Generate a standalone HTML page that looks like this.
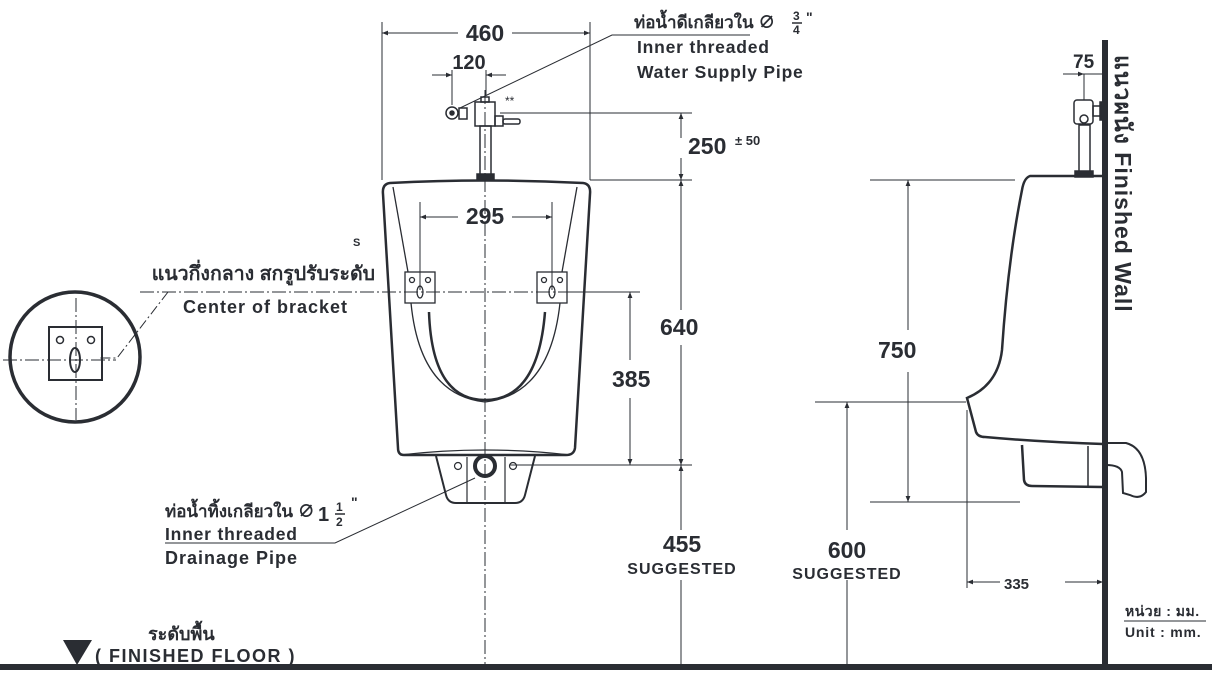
<!DOCTYPE html>
<html><head><meta charset="utf-8"><style>
html,body{margin:0;padding:0;background:#fff;}
svg{display:block;}
text{font-family:"Liberation Sans","Noto Sans CJK SC",sans-serif;fill:#2a2d33;font-weight:bold;}
</style></head><body>
<svg width="1212" height="677" viewBox="0 0 1212 677" xmlns="http://www.w3.org/2000/svg">
<defs>
<marker id="a" viewBox="0 0 10 10" refX="10" refY="5" markerWidth="9" markerHeight="6" orient="auto-start-reverse" markerUnits="userSpaceOnUse"><path d="M0,1 L10,5 L0,9 z" fill="#2a2d33"/></marker>
</defs>
<g stroke="#2a2d33" fill="none" stroke-width="1">
<line x1="382" y1="22" x2="382" y2="180"/><line x1="590" y1="22" x2="590" y2="180"/>
<line x1="382" y1="33" x2="458" y2="33" marker-start="url(#a)"/><line x1="512" y1="33" x2="590" y2="33" marker-end="url(#a)"/>
<line x1="452" y1="70" x2="452" y2="105"/><line x1="486" y1="70" x2="486" y2="95"/>
<line x1="432" y1="75" x2="452" y2="75" marker-end="url(#a)"/><line x1="506" y1="75" x2="486" y2="75" marker-end="url(#a)"/>
<polyline points="460,108 612,35 750,35"/>
<line x1="500" y1="113" x2="692" y2="113"/><line x1="590" y1="180" x2="692" y2="180"/>
<line x1="681" y1="138" x2="681" y2="113" marker-end="url(#a)"/><line x1="681" y1="158" x2="681" y2="180" marker-end="url(#a)"/>
<line x1="681" y1="310" x2="681" y2="180" marker-end="url(#a)"/><line x1="681" y1="345" x2="681" y2="465" marker-end="url(#a)"/>
<line x1="510" y1="465" x2="692" y2="465"/>
<line x1="681" y1="530" x2="681" y2="465" marker-end="url(#a)"/><line x1="681" y1="580" x2="681" y2="667"/>
<line x1="560" y1="292" x2="640" y2="292"/>
<line x1="630" y1="360" x2="630" y2="292" marker-end="url(#a)"/><line x1="630" y1="398" x2="630" y2="465" marker-end="url(#a)"/>
<line x1="140" y1="292" x2="640" y2="292" stroke-dasharray="14,3,2,3"/>
<line x1="485" y1="90" x2="485" y2="667" stroke-dasharray="14,3,2,3"/>
<line x1="420" y1="202" x2="420" y2="290"/><line x1="552" y1="202" x2="552" y2="290"/>
<line x1="458" y1="217" x2="420" y2="217" marker-end="url(#a)"/><line x1="512" y1="217" x2="552" y2="217" marker-end="url(#a)"/>
<g stroke-width="1.5">
<circle cx="452" cy="113" r="6"/><circle cx="452" cy="113" r="2" fill="#2a2d33"/>
<rect x="459" y="108" width="8" height="11"/>
<rect x="475" y="102" width="20" height="24"/><rect x="481" y="97" width="8" height="5"/>
<rect x="495" y="116" width="8" height="10"/><rect x="503" y="119" width="17" height="5" rx="2"/>
<rect x="480" y="126" width="11" height="49"/><rect x="477" y="174" width="17" height="6" fill="#2a2d33"/>
</g>
<g stroke-width="2.5">
<path d="M390,183 Q485,178 583,183 Q591,184 590,194 L575,448 Q574,455 566,455 L404,455 Q398,455 398,448 L383,194 Q382,184 390,183 Z"/>
</g>
<g stroke-width="1.3">
<path d="M393,187 L408,272 M577,187 L562,272"/>
<path d="M411,303 Q420,395 485,402 Q550,395 560,303"/>
<path d="M400,455 Q485,445 570,455"/>
<rect x="405" y="272" width="30" height="31"/><rect x="537" y="272" width="30" height="31"/>
<circle cx="412" cy="280" r="2.5"/><circle cx="428" cy="280" r="2.5"/><ellipse cx="420" cy="292" rx="3" ry="6"/>
<circle cx="544" cy="280" r="2.5"/><circle cx="560" cy="280" r="2.5"/><ellipse cx="552" cy="292" rx="3" ry="6"/>
</g>
<path d="M429,312 Q432,400 485,400 Q538,400 545,312" stroke-width="2.5"/>
<g stroke-width="2">
<path d="M436,456 L446,495 Q448,503 456,503 L515,503 Q523,503 525,495 L535,456"/>
</g>
<g stroke-width="1.2"><line x1="467" y1="457" x2="467" y2="502"/><line x1="505" y1="457" x2="505" y2="502"/>
<circle cx="458" cy="466" r="3.5"/><circle cx="513" cy="466" r="3.5"/></g>
<circle cx="485" cy="466" r="10" stroke-width="4"/>
<polyline points="475,478 335,543 165,543"/>
<polyline points="168,292 117,358 100,358" stroke-dasharray="10,3,2,3"/>
<circle cx="75" cy="357" r="65" stroke-width="3.5"/>
<rect x="49" y="327" width="53" height="53" stroke-width="2"/>
<circle cx="60" cy="340" r="3.5" stroke-width="1.5"/><circle cx="91" cy="340" r="3.5" stroke-width="1.5"/>
<ellipse cx="75" cy="360" rx="5" ry="12" stroke-width="2"/>
<line x1="76" y1="298" x2="76" y2="420" stroke-dasharray="14,3,2,3"/>
<line x1="3" y1="360" x2="116" y2="360" stroke-dasharray="14,3,2,3"/>
<line x1="1063" y1="74" x2="1084" y2="74" marker-end="url(#a)"/><line x1="1084" y1="74" x2="1103" y2="74"/>
<line x1="1084" y1="74" x2="1084" y2="100"/>
<line x1="870" y1="180" x2="1015" y2="180"/><line x1="870" y1="502" x2="1020" y2="502"/>
<line x1="908" y1="330" x2="908" y2="180" marker-end="url(#a)"/><line x1="908" y1="372" x2="908" y2="502" marker-end="url(#a)"/>
<line x1="815" y1="402" x2="966" y2="402"/>
<line x1="847" y1="530" x2="847" y2="402" marker-end="url(#a)"/><line x1="847" y1="580" x2="847" y2="667"/>
<line x1="967" y1="410" x2="967" y2="588"/>
<line x1="1000" y1="582" x2="967" y2="582" marker-end="url(#a)"/><line x1="1065" y1="582" x2="1103" y2="582" marker-end="url(#a)"/>
<g stroke-width="2.5">
<path d="M1103,176 L1030,176 Q1024,178 1022,190 Q1008,260 1002,350 Q998,385 967,398 L976,432 Q978,437 985,437 Q1040,442 1103,444"/>
<path d="M1022,445 L1024,480 Q1025,486 1032,486 L1103,487"/>
<path d="M1106,443 L1126,443 Q1145,448 1146,478 L1146,492 Q1140,500 1130,495 L1123,493 L1122,472 Q1120,465 1106,465" stroke-width="2"/>
</g>
<line x1="1088" y1="446" x2="1088" y2="487" stroke-width="1.5"/>
<g stroke-width="1.5">
<rect x="1079" y="125" width="11" height="47"/><rect x="1075" y="171" width="18" height="6" fill="#2a2d33"/>
<rect x="1074" y="100" width="19" height="24" rx="3"/><circle cx="1084" cy="119" r="4"/>
<rect x="1093" y="106" width="8" height="10"/><rect x="1100" y="102" width="3" height="18" fill="#2a2d33"/>
</g>
</g>
<rect x="1102" y="40" width="6" height="628" fill="#2a2d33"/>
<rect x="0" y="664" width="1212" height="6" fill="#2a2d33"/>
<polygon points="63,640 92,640 77,665" fill="#2a2d33"/>
<text x="485" y="41" font-size="23" text-anchor="middle">460</text>
<text x="469" y="69" font-size="20" text-anchor="middle">120</text>
<text x="505" y="105" font-size="12" style="font-weight:normal">**</text>
<text x="634" y="28" font-size="17">ท่อน้ำดีเกลียวใน ∅</text>
<text x="793" y="20" font-size="12">3</text><line x1="792" y1="23" x2="802" y2="23" stroke="#2a2d33" stroke-width="1.5"/><text x="793" y="34" font-size="12">4</text><text x="806" y="22" font-size="14">"</text>
<text x="637" y="53" font-size="17.5" letter-spacing="0.8">Inner threaded</text>
<text x="637" y="78" font-size="17.5" letter-spacing="0.8">Water Supply Pipe</text>
<text x="688" y="154" font-size="23">250</text><text x="735" y="145" font-size="13">± 50</text>
<text x="660" y="335" font-size="23">640</text>
<text x="612" y="387" font-size="23">385</text>
<text x="485" y="224" font-size="23" text-anchor="middle">295</text>
<text x="682" y="552" font-size="23" text-anchor="middle">455</text>
<text x="682" y="574" font-size="16" letter-spacing="1" text-anchor="middle">SUGGESTED</text>
<text x="847" y="558" font-size="23" text-anchor="middle">600</text>
<text x="847" y="579" font-size="16" letter-spacing="1" text-anchor="middle">SUGGESTED</text>
<text x="878" y="358" font-size="23">750</text>
<text x="1004" y="589" font-size="15">335</text>
<text x="1073" y="68" font-size="19">75</text>
<text x="353" y="246" font-size="11">S</text>
<text x="375" y="280" font-size="19.5" text-anchor="end">แนวกึ่งกลาง สกรูปรับระดับ</text>
<text x="183" y="313" font-size="18" letter-spacing="1">Center of bracket</text>
<text x="165" y="517" font-size="17">ท่อน้ำทิ้งเกลียวใน ∅</text>
<text x="318" y="521" font-size="20">1</text>
<text x="336" y="511" font-size="12">1</text><line x1="335" y1="514" x2="345" y2="514" stroke="#2a2d33" stroke-width="1.5"/><text x="336" y="526" font-size="12">2</text><text x="351" y="507" font-size="14">"</text>
<text x="165" y="540" font-size="17.5" letter-spacing="0.8">Inner threaded</text>
<text x="165" y="564" font-size="18" letter-spacing="1">Drainage Pipe</text>
<text x="148" y="640" font-size="18">ระดับพื้น</text>
<text x="95" y="662" font-size="18" letter-spacing="1.5">( FINISHED FLOOR )</text>
<text transform="translate(1115,55) rotate(90)" font-size="23" letter-spacing="1">แนวผนัง Finished Wall</text>
<text x="1125" y="616" font-size="14" letter-spacing="0.5">หน่วย : มม.</text>
<line x1="1124" y1="621" x2="1206" y2="621" stroke="#2a2d33" stroke-width="1"/>
<text x="1125" y="637" font-size="14" letter-spacing="0.8">Unit : mm.</text>
</svg>
</body></html>
